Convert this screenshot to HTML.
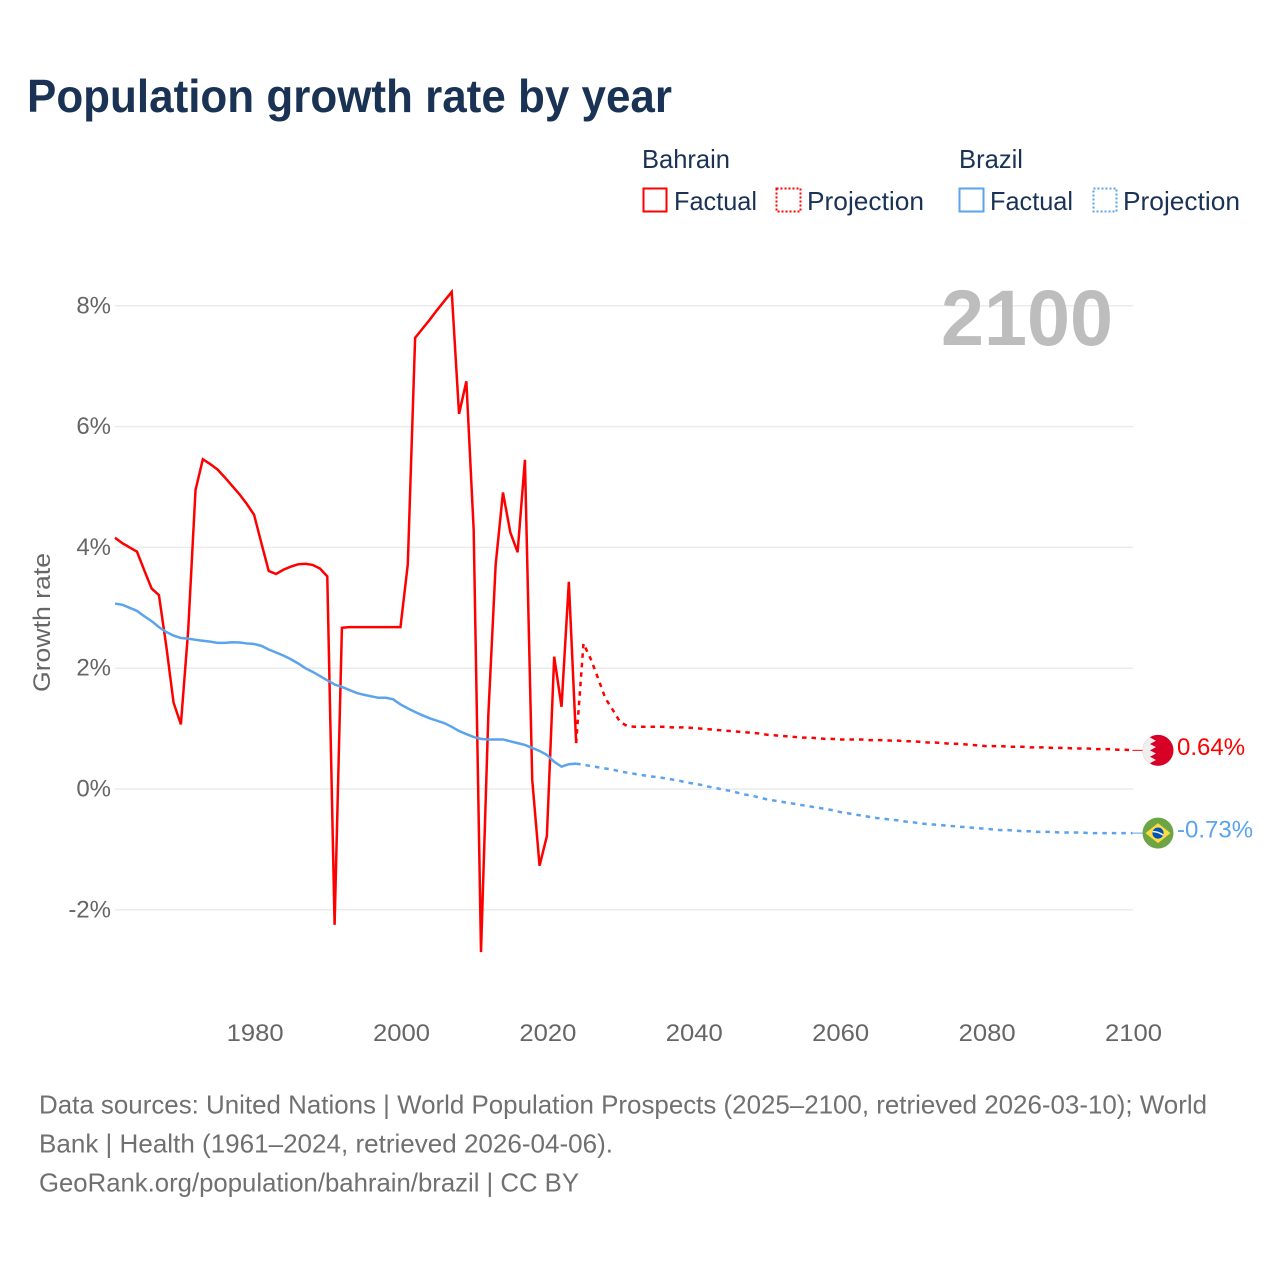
<!DOCTYPE html>
<html lang="en">
<head>
<meta charset="utf-8">
<title>Population growth rate by year</title>
<style>
html,body{margin:0;padding:0;background:#fff;width:1280px;height:1280px;overflow:hidden}
svg{display:block}
text{font-family:"Liberation Sans",sans-serif}
</style>
</head>
<body>
<svg id="chart" xmlns="http://www.w3.org/2000/svg" width="1280" height="1280" viewBox="0 0 1280 1280">
  <text x="27" y="112" font-size="46" font-weight="700" fill="#1a3355" textLength="645" lengthAdjust="spacingAndGlyphs">Population growth rate by year</text>

  <g fill="#1a3355" font-size="26">
    <text x="642" y="168" textLength="88" lengthAdjust="spacingAndGlyphs">Bahrain</text>
    <text x="959" y="168" textLength="64" lengthAdjust="spacingAndGlyphs">Brazil</text>
    <rect x="643.5" y="188.5" width="23" height="23" fill="none" stroke="#ff0000" stroke-width="2"/>
    <text x="674" y="210" textLength="83" lengthAdjust="spacingAndGlyphs">Factual</text>
    <rect x="776.5" y="188.5" width="24" height="23" fill="none" stroke="#ff0000" stroke-width="2" stroke-dasharray="2 2"/>
    <text x="807" y="210" textLength="117" lengthAdjust="spacingAndGlyphs">Projection</text>
    <rect x="959.5" y="188.5" width="24" height="23" fill="none" stroke="#5ba3ec" stroke-width="2"/>
    <text x="990" y="210" textLength="83" lengthAdjust="spacingAndGlyphs">Factual</text>
    <rect x="1093.5" y="188.5" width="23" height="23" fill="none" stroke="#5ba3ec" stroke-width="2" stroke-dasharray="2 2"/>
    <text x="1123" y="210" textLength="117" lengthAdjust="spacingAndGlyphs">Projection</text>
  </g>

  <g id="grid"></g>
  <g id="yticks"></g>
  <g id="xticks"></g>

  <text x="941" y="345" font-size="79" font-weight="700" fill="#bdbdbd" textLength="172" lengthAdjust="spacingAndGlyphs">2100</text>

  <text transform="translate(50,692) rotate(-90)" font-size="24" fill="#666" textLength="139" lengthAdjust="spacingAndGlyphs">Growth rate</text>

  <g id="series"></g>

  <defs>
    <clipPath id="flag-clip"><circle cx="0" cy="0" r="15.5"/></clipPath>
  </defs>
  <g id="flag-bahrain" clip-path="url(#flag-clip)">
    <rect x="-16" y="-16" width="32" height="32" fill="#d80027"/>
    <polygon points="-16,-16 -4,-16 -8,-12.8 -2,-9.6 -8,-6.4 -2,-3.2 -8,0 -2,3.2 -8,6.4 -2,9.6 -8,12.8 -4,16 -16,16" fill="#efefef"/>
  </g>
  <g id="flag-brazil" clip-path="url(#flag-clip)">
    <rect x="-16" y="-16" width="32" height="32" fill="#6da544"/>
    <polygon points="0,-10 12.5,0 0,10 -12.5,0" fill="#ffda44"/>
    <circle cx="0" cy="0" r="5.6" fill="#0052b4"/>
    <path d="M-5.4,-1.4 Q0,-1.6 5.2,2" fill="none" stroke="#f0f0f0" stroke-width="1.5"/>
  </g>
  <text id="label-bahrain" x="1177" font-size="24" fill="#ff0000"></text>
  <text id="label-brazil" x="1177" font-size="24" fill="#5ba3ec"></text>

  <g font-size="26" fill="#707070">
    <text x="39" y="1113.5" textLength="1168" lengthAdjust="spacingAndGlyphs">Data sources: United Nations | World Population Prospects (2025–2100, retrieved 2026-03-10); World</text>
    <text x="39" y="1152.5" textLength="574" lengthAdjust="spacingAndGlyphs">Bank | Health (1961–2024, retrieved 2026-04-06).</text>
    <text x="39" y="1191.5" textLength="540" lengthAdjust="spacingAndGlyphs">GeoRank.org/population/bahrain/brazil | CC BY</text>
  </g>
</svg>
<script>
const firstFactualYear = 1961;
const firstProjectionYear = 2025;
const xTickYears = [1980, 2000, 2020, 2040, 2060, 2080, 2100];
const yTickValues = [-2, 0, 2, 4, 6, 8];
const yTickLabels = ['-2%', '0%', '2%', '4%', '6%', '8%'];
const bahrainEndLabel = '0.64%';
const brazilEndLabel = '-0.73%';

const bahrainFactual = [
  4.16, 4.07, 4.00, 3.93, 3.62, 3.32, 3.21, 2.37, 1.43, 1.07,
  2.63, 4.95, 5.46, 5.38, 5.29, 5.16, 5.02, 4.88, 4.72, 4.54,
  4.07, 3.61, 3.56, 3.63, 3.68, 3.72, 3.73, 3.71, 3.65, 3.52,
  -2.25, 2.67, 2.68, 2.68, 2.68, 2.68, 2.68, 2.68, 2.68, 2.68,
  3.72, 7.47, 7.62, 7.77, 7.93, 8.08, 8.23, 6.21, 6.75, 4.29,
  -2.70, 1.22, 3.71, 4.91, 4.25, 3.92, 5.45, 0.15, -1.27, -0.78,
  2.19, 1.36, 3.43, 0.76
];
const bahrainProjection = [
  2.41, 2.15, 1.83, 1.50, 1.31, 1.11,
  1.04, 1.03, 1.03, 1.03, 1.03, 1.03, 1.02, 1.02, 1.02, 1.01,
  1.00, 0.99, 0.98, 0.97, 0.96, 0.95, 0.94, 0.93, 0.92, 0.90,
  0.89, 0.88, 0.87, 0.86, 0.85, 0.85, 0.84, 0.83, 0.83, 0.82,
  0.82, 0.82, 0.82, 0.81, 0.81, 0.81, 0.80, 0.80, 0.79, 0.79,
  0.78, 0.77, 0.77, 0.76, 0.75, 0.75, 0.74, 0.73, 0.72, 0.71,
  0.71, 0.71, 0.70, 0.70, 0.70, 0.69, 0.69, 0.69, 0.68, 0.68,
  0.68, 0.67, 0.67, 0.67, 0.66, 0.66, 0.66, 0.65, 0.65, 0.64
];
const brazilFactual = [
  3.07, 3.05, 3.00, 2.95, 2.86, 2.78, 2.68, 2.60, 2.54, 2.50,
  2.49, 2.47, 2.455, 2.44, 2.42, 2.42, 2.43, 2.425, 2.41, 2.40,
  2.37, 2.31, 2.26, 2.21, 2.15, 2.08, 2.00, 1.94, 1.87, 1.80,
  1.73, 1.69, 1.64, 1.59, 1.56, 1.535, 1.51, 1.51, 1.485, 1.40,
  1.335, 1.275, 1.22, 1.17, 1.13, 1.09, 1.03, 0.96, 0.91, 0.86,
  0.83, 0.82, 0.82, 0.82, 0.79, 0.76, 0.73, 0.68, 0.63, 0.565,
  0.45, 0.37, 0.41, 0.42
];
const brazilProjection = [
  0.40, 0.38, 0.36, 0.34, 0.32, 0.29,
  0.27, 0.25, 0.23, 0.21, 0.20, 0.18, 0.16, 0.14, 0.11, 0.09,
  0.07, 0.04, 0.02, -0.01, -0.03, -0.06, -0.09, -0.11, -0.14, -0.17,
  -0.19, -0.21, -0.23, -0.25, -0.27, -0.29, -0.31, -0.33, -0.35, -0.38,
  -0.40, -0.42, -0.44, -0.46, -0.48, -0.49, -0.51, -0.52, -0.54, -0.55,
  -0.57, -0.58, -0.59, -0.60, -0.61, -0.62, -0.63, -0.64, -0.65, -0.66,
  -0.67, -0.68, -0.68, -0.69, -0.70, -0.70, -0.71, -0.71, -0.71, -0.72,
  -0.72, -0.72, -0.72, -0.73, -0.73, -0.73, -0.73, -0.73, -0.73, -0.73
];

const SVG_NS = 'http://www.w3.org/2000/svg';
const RED = '#ff0000';
const BLUE = '#5ba3ec';
const GRID_LEFT = 115;
const GRID_RIGHT = 1133;

function xScale(year) { return 115 + (year - 1961) * 7.32; }
function yScale(value) { return 789 - value * 60.4; }

function make(tag, attrs, parent) {
  const el = document.createElementNS(SVG_NS, tag);
  for (const k in attrs) el.setAttribute(k, attrs[k]);
  parent.appendChild(el);
  return el;
}

function pathFrom(values, startYear) {
  let d = '';
  values.forEach(function (v, i) {
    d += (d ? 'L' : 'M') + xScale(startYear + i).toFixed(2) + ' ' + yScale(v).toFixed(2);
  });
  return d;
}

const gridGroup = document.getElementById('grid');
const yTickGroup = document.getElementById('yticks');
const xTickGroup = document.getElementById('xticks');
const seriesGroup = document.getElementById('series');

yTickValues.forEach(function (v, i) {
  const line = make('line', { x1: GRID_LEFT, x2: GRID_RIGHT, y1: yScale(v), y2: yScale(v), stroke: '#ebebeb', 'stroke-width': 1.5 }, gridGroup);
  
  
  const label = make('text', { x: 111, y: yScale(v) + 7.5, 'text-anchor': 'end', 'font-size': 24, fill: '#666' }, yTickGroup);
  label.textContent = yTickLabels[i];
  
  
});

xTickYears.forEach(function (year) {
  const label = make('text', { x: xScale(year) + 1 - 28.5, y: 1041, 'font-size': 24, fill: '#666', textLength: 57, lengthAdjust: 'spacingAndGlyphs' }, xTickGroup);
  label.textContent = String(year);
  
  
});

function drawSeries(name, factual, projection, color) {
  const factualLine = make('path', { d: pathFrom(factual, firstFactualYear), fill: 'none', stroke: color, 'stroke-width': 2.5, 'stroke-linejoin': 'miter', 'stroke-miterlimit': 4 }, seriesGroup);
  
  
  const lastFactual = factual[factual.length - 1];
  const joined = [lastFactual].concat(projection);
  const projectionLine = make('path', { d: pathFrom(joined, firstProjectionYear - 1), fill: 'none', stroke: color, 'stroke-width': 2.5, 'stroke-dasharray': '4.5 5' }, seriesGroup);
  
  
  const last = projection[projection.length - 1];
  const lastYear = firstProjectionYear + projection.length - 1;
  const connector = make('line', { x1: xScale(lastYear), x2: 1144, y1: yScale(last), y2: yScale(last), stroke: color, 'stroke-width': 1 }, seriesGroup);
  
  
  document.getElementById('flag-' + name).setAttribute('transform', 'translate(1158,' + yScale(last).toFixed(2) + ')');
  document.getElementById('label-' + name).setAttribute('y', (yScale(last) + 4.5).toFixed(2));
}

drawSeries('bahrain', bahrainFactual, bahrainProjection, RED);
drawSeries('brazil', brazilFactual, brazilProjection, BLUE);
document.getElementById('label-bahrain').textContent = bahrainEndLabel;
document.getElementById('label-brazil').textContent = brazilEndLabel;
</script>
</body>
</html>
